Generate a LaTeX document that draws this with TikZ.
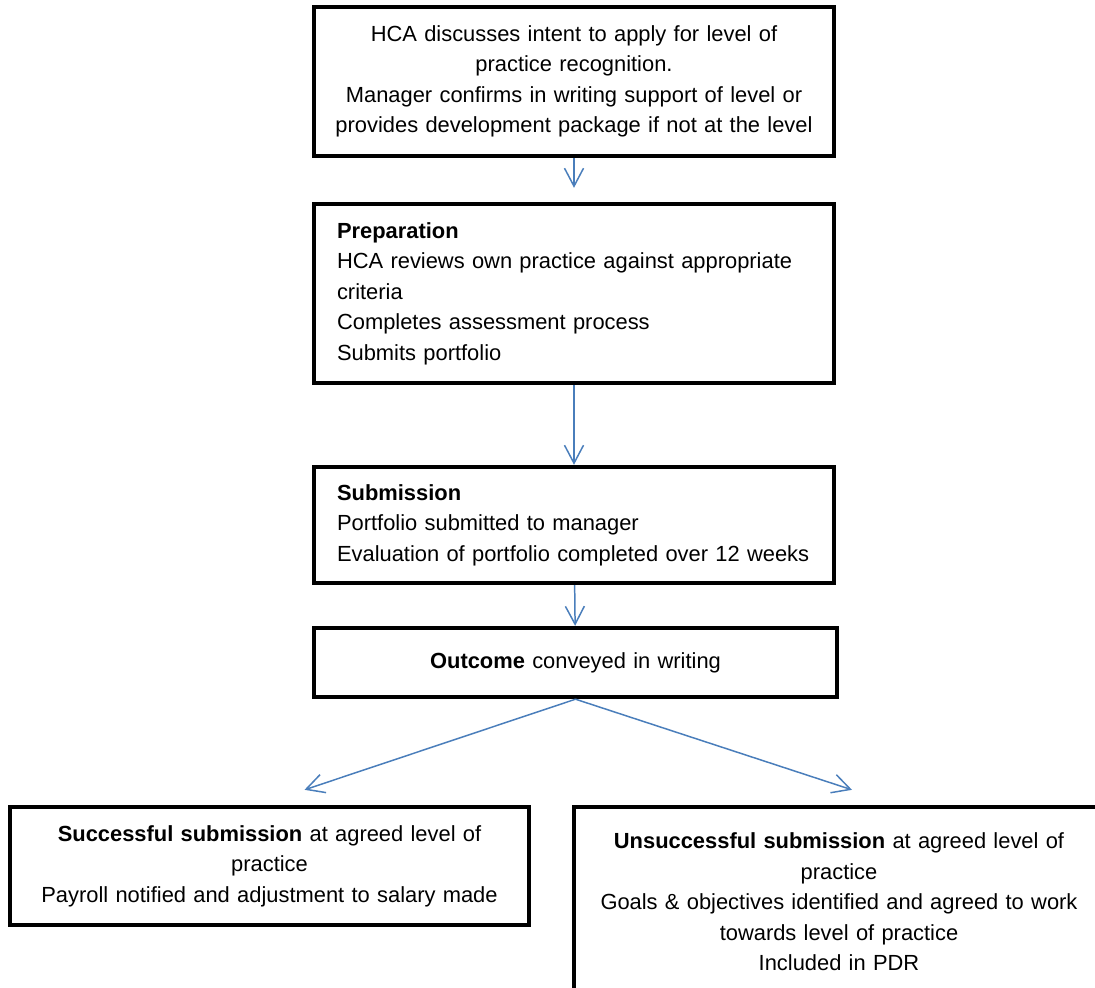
\documentclass[tikz,border=0pt]{standalone}
\usepackage{fontspec}
\setmainfont{Liberation Sans}
\usepackage{xcolor}
\usepackage{tikz}
\usetikzlibrary{arrows.meta}
\definecolor{flowblue}{HTML}{4A7EBB}
\tikzstyle{node:box}=[rectangle,draw,line width=2.5pt,minimum width=10.4cm,inner xsep=0.2cm,font=\fontsize{12.46}{17.36}\selectfont]
\tikzstyle{node:centerbox}=[node:box,align=center,text width=10cm]
\tikzstyle{node:leftbox}=[node:box,align=left,text width=9.48cm,inner xsep=0.46cm]
\tikzstyle{draw:flow}=[-{Straight Barb[length=0.36cm,width=0.38cm]},flowblue,line width=0.85pt]

\begin{document}
\begin{tikzpicture}[x=0.02cm, y=-0.02cm]
        \useasboundingbox (0,0) rectangle (1095,987);
        \clip (0,0) rectangle (1095,987);

        % Main steps
        \node[node:centerbox, minimum height=2.98cm] (intent) at (574,81.5) {HCA discusses intent to apply for level of\\practice recognition.\\Manager confirms in writing support of level or\\provides development package if not at the level};
        \node[node:leftbox, minimum height=3.58cm] (prep) at (574,293.5) {\textbf{Preparation}\\HCA reviews own practice against appropriate\\criteria\\Completes assessment process\\Submits portfolio};
        \node[node:leftbox, minimum height=2.32cm] (submit) at (574,525) {\textbf{Submission}\\Portfolio submitted to manager\\Evaluation of portfolio completed over 12 weeks};
        \node[node:centerbox, minimum width=10.46cm, minimum height=1.38cm] (outcome) at (575.5,662.5) {\textbf{Outcome} conveyed in writing};

        % Results
        \node[node:centerbox, minimum width=10.38cm, text width=9.8cm, minimum height=2.36cm] (pass) at (269.5,866) {\textbf{Successful submission} at agreed level of\\practice\\Payroll notified and adjustment to salary made};
        \node[node:centerbox, minimum width=10.6cm, minimum height=3.8cm] (fail) at (839,902) {\textbf{Unsuccessful submission} at agreed level of\\practice\\Goals \& objectives identified and agreed to work\\towards level of practice\\Included in PDR};

        % Connections
        \draw[draw:flow, shorten >=0.28cm] (intent) -- (prep);
        \draw[draw:flow] (prep) -- (submit);
        \draw[draw:flow] (submit) -- (outcome);
        \draw[draw:flow] (outcome.south) -- ([shift={(35,-15)}]pass.north);
        \draw[draw:flow] (outcome.south) -- ([shift={(13,-15)}]fail.north);

    \end{tikzpicture}
\end{document}
